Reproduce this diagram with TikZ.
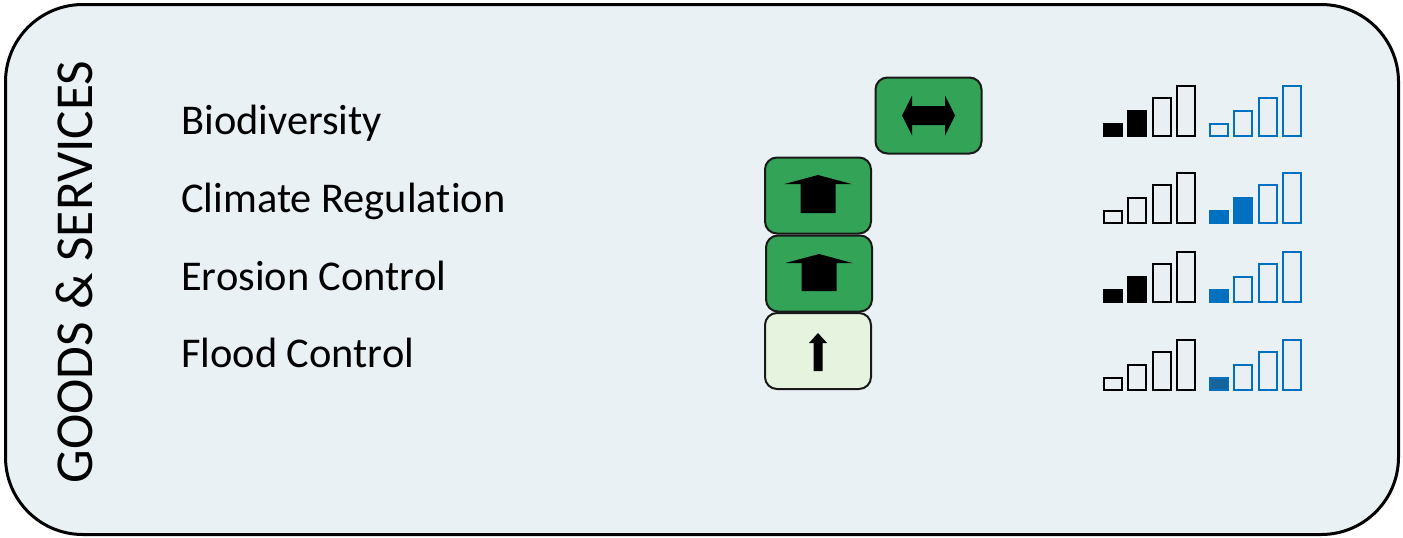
\documentclass[tikz,border=0pt]{standalone}
\usepackage{fontspec}
\setmainfont{Carlito}[Ligatures={NoCommon}]
\definecolor{bg}{HTML}{EAF1F5}
\definecolor{hollow}{HTML}{E9EFF3}
\definecolor{gbox}{HTML}{33A457}
\definecolor{lgbox}{HTML}{E6F4DF}
\definecolor{bblue}{HTML}{0070C0}
\definecolor{dblue}{HTML}{17649A}
\tikzset{
  frame/.style={draw=black, line width=2.25pt, fill=bg, rounded corners=58pt},
  lbl/.style={inner sep=0pt, anchor=base west, font=\fontsize{31.8pt}{38pt}\selectfont},
  head/.style={inner sep=0pt, anchor=base, rotate=90, font=\fontsize{40pt}{48pt}\selectfont},
  tbox/.style={draw=black!90, line width=1.5pt, rounded corners=9pt, minimum width=79.5pt, minimum height=57pt, inner sep=0pt},
  arr/.style={fill=black, draw=none},
  sbar/.style={line width=1.6pt},
}
\newcommand\sigbars[5]{%
  \foreach \i in {1,2,3,4}{%
    \pgfmathsetmacro\bx{#1+(\i-1)*24.3}%
    \pgfmathsetmacro\bh{{14,27,40,52}[\i-1]}%
    \ifnum\i>#4\relax\def\barfill{hollow}\else\def\barfill{#5}\fi
    \draw[sbar, draw=#3, fill=\barfill] (\bx+1,#2-1) rectangle (\bx+19,#2-\bh+1);
  }}
\begin{document}
\begin{tikzpicture}[x=0.75pt,y=-0.75pt]
\useasboundingbox (0,0) rectangle (1403,537);
\draw[frame] (5.5,4.5) rectangle (1398.5,534.5);

\node[head] (gs) at (92,272) {GOODS \& SERVICES};

\node[lbl] (bio) at (181,134) {Biodiversity};
\node[lbl] (cli) at (181,212) {Climate Regulation};
\node[lbl] (ero) at (181,290) {Erosion Control};
\node[lbl] (flo) at (181,367) {Flood Control};

\node[tbox, fill=gbox] (b1) at (928.5,115.5) {};
\node[tbox, fill=gbox] (b2) at (818,195.5) {};
\node[tbox, fill=gbox] (b3) at (819,273.5) {};
\node[tbox, fill=lgbox] (b4) at (818,351) {};

% double arrow
\fill[arr, shift={(b1.center)}] (-26.5,0) -- (-16.5,-20) -- (-16.5,-9.5) -- (16.5,-9.5) -- (16.5,-20)
  -- (26.5,0) -- (16.5,20) -- (16.5,9.5) -- (-16.5,9.5) -- (-16.5,20) -- cycle;
% big up arrows
\fill[arr, shift={(b2.center)}] (0,-20.5) -- (33.5,-11.5) -- (17.5,-11.5) -- (17.5,17.5) -- (-17.5,17.5)
  -- (-17.5,-11.5) -- (-33.5,-11.5) -- cycle;
\fill[arr, shift={(b3.center)}] (0,-19.5) -- (33.5,-10.5) -- (17.5,-10.5) -- (17.5,17.5) -- (-17.5,17.5)
  -- (-17.5,-10.5) -- (-33.5,-10.5) -- cycle;
% thin up arrow
\fill[arr, shift={(b4.center)}] (0,-18) -- (9,-8) -- (4.5,-8) -- (4.5,20) -- (-4.5,20)
  -- (-4.5,-8) -- (-9,-8) -- cycle;

% signal bars
\sigbars{1103}{137}{black}{2}{black}
\sigbars{1209}{137}{bblue}{0}{bblue}
\sigbars{1103}{224}{black}{0}{black}
\sigbars{1209}{224}{bblue}{2}{bblue}
\sigbars{1103}{303}{black}{2}{black}
\sigbars{1209}{303}{bblue}{1}{bblue}
\sigbars{1103}{391}{black}{0}{black}
\sigbars{1209}{391}{bblue}{1}{dblue}
\end{tikzpicture}
\end{document}
